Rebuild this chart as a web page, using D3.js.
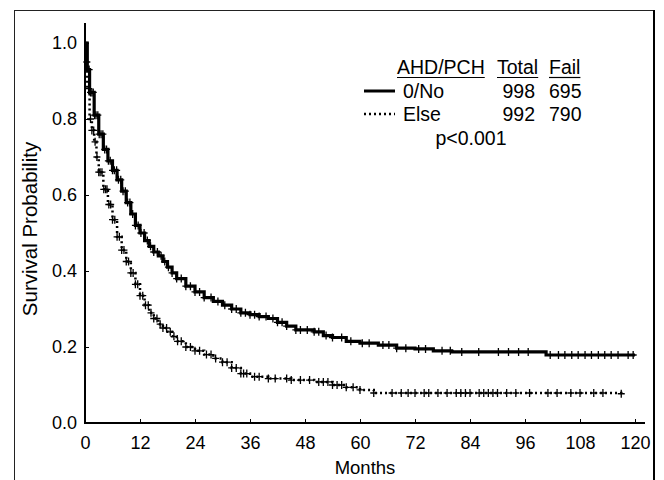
<!DOCTYPE html>
<meta charset="utf-8">
<head>
<style>
  body { margin: 0; background: #fff; font-family: "Liberation Sans", Arial, sans-serif; }
  svg { display: block; }
  .axis path, .axis line { stroke: #000; }
  .legend text { font-size: 19.5px; fill: #000; }
  .title { font-size: 18.5px; fill: #000; }
</style>
</head>
<body>
<div id="chart"></div>
<script src="https://cdn.jsdelivr.net/npm/d3@7"></script>
<script>
// Kaplan-Meier curves (months, survival)
var noTimes = [0, 0.5, 1, 2, 3, 4, 5, 6, 7, 8, 9, 10, 11, 12, 13, 14, 15, 16, 17, 18, 19, 20, 22, 24, 26, 28, 30, 32, 34, 36, 38, 40, 42, 44, 46, 50, 52, 54, 57, 60, 64, 68, 72, 76, 80, 100.6, 120];
var noSurv  = [1.0, 0.93, 0.87, 0.81, 0.76, 0.72, 0.69, 0.665, 0.64, 0.61, 0.58, 0.55, 0.52, 0.50, 0.48, 0.465, 0.45, 0.44, 0.425, 0.41, 0.395, 0.38, 0.36, 0.345, 0.33, 0.32, 0.31, 0.30, 0.29, 0.285, 0.28, 0.275, 0.265, 0.255, 0.245, 0.24, 0.23, 0.225, 0.215, 0.21, 0.205, 0.197, 0.195, 0.19, 0.187, 0.179, 0.179];

var elseTimes = [0, 0.3, 0.5, 1, 1.5, 2, 2.5, 3, 4, 5, 6, 7, 8, 9, 10, 11, 12, 13, 14, 15, 16, 17, 18, 19, 20, 22, 24, 26, 28, 30, 32, 34, 36, 40, 45, 50, 54, 57, 60, 63, 117];
var elseSurv  = [1.0, 0.95, 0.88, 0.80, 0.77, 0.74, 0.70, 0.66, 0.615, 0.575, 0.535, 0.49, 0.455, 0.425, 0.395, 0.365, 0.335, 0.31, 0.29, 0.275, 0.26, 0.25, 0.24, 0.228, 0.215, 0.20, 0.19, 0.18, 0.17, 0.16, 0.145, 0.13, 0.122, 0.117, 0.113, 0.108, 0.10, 0.094, 0.087, 0.079, 0.077];

// censoring times (+ marks)
var noCens = [0.9, 1.2, 1.5, 1.8, 2.1, 2.4, 2.8, 3.1, 3.5, 3.9, 4.3, 4.7, 5.1, 5.5, 6.0, 6.4, 6.9, 7.3, 7.8, 8.3, 8.8, 9.3, 9.8, 10.4, 11, 11.6, 12.2, 12.9, 13.6, 14.3, 15, 15.8, 16.6, 17.4, 18.2, 19, 20, 21, 22, 23, 24, 25, 26, 27.5, 29, 30.5, 32, 33, 34, 35, 36, 37, 38, 39.5, 41, 42, 43, 44, 46, 47, 48.5, 50, 51, 52.6, 54, 56, 58, 60.5, 62, 65, 66.3, 68, 70, 72.8, 74.3, 77.9, 79.7, 82.2, 85.9, 90.2, 92.4, 94.6, 96.7, 101.5, 103.3, 104.7, 106.2, 107.6, 109.1, 110.5, 112, 113.4, 114.8, 116.3, 118.5, 119.6];
var elseCens = [0.4, 0.8, 1.2, 1.5, 1.9, 2.2, 2.6, 3.0, 3.3, 3.7, 4.1, 4.5, 4.8, 5.2, 5.6, 6.0, 6.5, 7.0, 7.5, 8.0, 8.5, 9.0, 9.5, 10, 10.5, 11, 11.5, 12, 12.6, 13.2, 13.8, 14.4, 15, 15.7, 16.4, 17, 17.8, 18.6, 19.4, 20.2, 21, 22, 23, 24, 25, 26.5, 27.5, 28.5, 30, 31, 32, 33, 34, 34.6, 35.3, 37, 38, 40, 41.5, 44, 45, 47, 49, 51, 52, 53, 54, 55, 56, 57, 58.5, 60, 63, 67, 69, 70.5, 72, 74, 75, 77, 79, 81, 82, 83, 84, 86, 87, 88, 89, 90, 92, 94, 97, 101, 103, 106, 108, 111, 113, 117];

var xTicks = [0, 12, 24, 36, 48, 60, 72, 84, 96, 108, 120];
var yTicks = [0, 0.2, 0.4, 0.6, 0.8, 1.0];

var legendHead = ["AHD/PCH", "Total", "Fail"];
var groups = ["0/No", "Else"];
var totals = [998, 992];
var fails = [695, 790];
var pText = "p<0.001";

var width = 664, height = 480;

var svg = d3.select("#chart").append("svg")
    .attr("width", width)
    .attr("height", height);

// outer frame
svg.append("rect")
    .attr("x", 14.5).attr("y", 10.5)
    .attr("width", 640).attr("height", 480)
    .attr("fill", "none").attr("stroke", "#222").attr("stroke-width", 1);
svg.append("line")
    .attr("x1", 654).attr("x2", 654).attr("y1", 10).attr("y2", 480)
    .attr("stroke", "#000").attr("stroke-width", 2);

var x = d3.scaleLinear().domain([0, 120]).range([85, 635]);
var y = d3.scaleLinear().domain([0, 1]).range([423, 43]);

// axes with inward ticks
var xAxis = svg.append("g")
    .attr("class", "axis")
    .attr("transform", "translate(0,423)")
    .call(d3.axisBottom(x).tickValues(xTicks).tickSizeInner(-4).tickSizeOuter(0));
xAxis.select(".domain").remove();
xAxis.selectAll(".tick text").attr("y", 26).attr("dy", null);

var yAxis = svg.append("g")
    .attr("class", "axis")
    .attr("transform", "translate(85,0)")
    .call(d3.axisLeft(y).tickValues(yTicks).tickFormat(d3.format(".1f")).tickSizeInner(-4).tickSizeOuter(0).tickPadding(8));
yAxis.select(".domain").remove();

svg.selectAll(".axis")
    .attr("font-size", null)
    .attr("font-family", null);
svg.selectAll(".axis .tick text")
    .style("font-family", "'Liberation Sans', Arial, sans-serif")
    .style("font-size", "18px")
    .attr("fill", "#000");

svg.append("line")
    .attr("x1", 85).attr("x2", 645).attr("y1", 423).attr("y2", 423)
    .attr("stroke", "#000").attr("stroke-width", 2);
svg.append("line")
    .attr("x1", 85).attr("x2", 85).attr("y1", 23).attr("y2", 424)
    .attr("stroke", "#000").attr("stroke-width", 2);

// axis titles
svg.append("text")
    .attr("class", "title")
    .attr("x", 365).attr("y", 474)
    .attr("text-anchor", "middle")
    .text("Months");
svg.append("text")
    .attr("class", "title")
    .attr("transform", "translate(37,229) rotate(-90)")
    .attr("text-anchor", "middle")
    .style("font-size", "20.5px")
    .text("Survival Probability");

// curves
function pts(times, surv) {
    return times.map(function (t, i) { return [t, surv[i]]; });
}
var line = d3.line()
    .x(function (d) { return x(d[0]); })
    .y(function (d) { return y(d[1]); })
    .curve(d3.curveStepAfter);

svg.append("path")
    .datum(pts(noTimes, noSurv))
    .attr("d", line)
    .attr("fill", "none").attr("stroke", "#000").attr("stroke-width", 3.2);

svg.append("path")
    .datum(pts(elseTimes, elseSurv))
    .attr("d", line)
    .attr("fill", "none").attr("stroke", "#000").attr("stroke-width", 2.5)
    .attr("stroke-dasharray", "2,3");

function survAt(times, surv, t) {
    var i = d3.bisectRight(times, t) - 1;
    return surv[Math.max(0, i)];
}

function censor(cens, times, surv) {
    svg.append("g").selectAll("path")
        .data(cens)
        .enter().append("path")
        .attr("d", function (t) {
            var cx = x(t), cy = y(survAt(times, surv, t));
            return "M" + (cx - 3.5) + "," + cy + "H" + (cx + 3.5) + "M" + cx + "," + (cy - 4) + "V" + (cy + 4);
        })
        .attr("stroke", "#000").attr("stroke-width", 1.3).attr("fill", "none");
}
censor(noCens, noTimes, noSurv);
censor(elseCens, elseTimes, elseSurv);

// legend
var lg = svg.append("g").attr("class", "legend");
var headX = [397, 497, 549];
legendHead.forEach(function (h, i) {
    var t = lg.append("text").attr("x", headX[i]).attr("y", 74).text(h);
    var w = t.node().getComputedTextLength();
    lg.append("line")
        .attr("x1", headX[i]).attr("x2", headX[i] + w)
        .attr("y1", 77.5).attr("y2", 77.5)
        .attr("stroke", "#000").attr("stroke-width", 1.2);
});
var rowY = [98, 121];
groups.forEach(function (g, i) {
    lg.append("line")
        .attr("x1", 364).attr("x2", 395)
        .attr("y1", rowY[i] - 7).attr("y2", rowY[i] - 7)
        .attr("stroke", "#000").attr("stroke-width", i === 0 ? 3 : 2.5)
        .attr("stroke-dasharray", i === 0 ? null : "2,3");
    lg.append("text").attr("x", 403).attr("y", rowY[i]).text(g);
    lg.append("text").attr("x", 535).attr("y", rowY[i]).attr("text-anchor", "end").text(totals[i]);
    lg.append("text").attr("x", 549).attr("y", rowY[i]).text(fails[i]);
});
lg.append("text").attr("x", 471).attr("y", 145).attr("text-anchor", "middle").text(pText);
</script>
</body>
